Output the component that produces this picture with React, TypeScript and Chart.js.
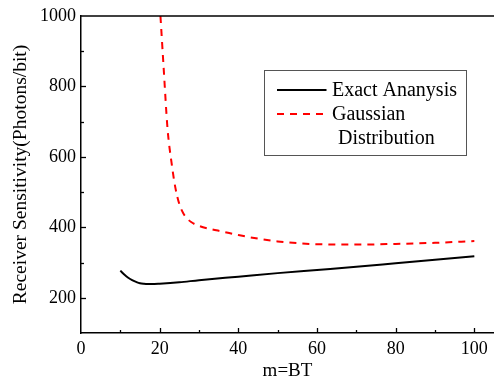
import React, { useEffect, useRef } from "react";
import { Chart, registerables } from "chart.js";

Chart.register(...registerables);

const exactX = [10, 11, 12, 13, 14, 15, 16, 17, 18, 20, 25, 30, 40, 50, 60, 70, 80, 90, 100];
const exactY = [277, 266, 257, 250, 245, 241, 239.5, 239, 239, 240, 244, 250, 260, 270, 279, 288, 298, 308, 318];

const gaussX = [20.2, 21, 22, 23, 24, 25, 26, 27, 28, 30, 33, 36, 40, 45, 50, 55, 60, 70, 80, 90, 100];
const gaussY = [1000, 855, 680, 585, 512, 466, 440, 425, 415, 404, 395, 388, 378, 368, 360, 355, 352, 351, 353, 356, 361];

const legendLabels = ["Exact Ananysis", "Gaussian", "Distribution"];
const xTitle = "m=BT";
const yTitle = "Receiver Sensitivity(Photons/bit)";

const FONT = "'Liberation Serif', 'Times New Roman', serif";

const framePlugin = {
  id: "frameTicks",
  afterDraw(chart: any) {
    const ctx = chart.ctx;
    const { left, right, top, bottom } = chart.chartArea;
    const xs = chart.scales.x;
    const ys = chart.scales.y;
    ctx.save();
    ctx.strokeStyle = "#000";
    ctx.lineWidth = 1.5;
    ctx.beginPath();
    ctx.moveTo(left, top);
    ctx.lineTo(right, top);
    ctx.stroke();
    ctx.lineWidth = 1.3;
    xs.ticks.forEach((t: any) => {
      const v = t.value;
      if (v <= 0) return;
      const px = Math.round(xs.getPixelForValue(v)) + 0.5;
      const len = v % 20 === 0 ? 5 : 3;
      ctx.beginPath();
      ctx.moveTo(px, bottom);
      ctx.lineTo(px, bottom - len);
      ctx.stroke();
    });
    ys.ticks.forEach((t: any) => {
      const v = t.value;
      if (v <= 100 || v >= 1000) return;
      const py = Math.round(ys.getPixelForValue(v)) + 0.5;
      const len = v % 200 === 0 ? 5 : 3;
      ctx.beginPath();
      ctx.moveTo(left, py);
      ctx.lineTo(left + len, py);
      ctx.stroke();
    });
    // legend
    const bx = left + 183.5;
    const by = top + 54.5;
    const bw = 202;
    const bh = 85;
    ctx.fillStyle = "#fff";
    ctx.fillRect(bx, by, bw, bh);
    ctx.strokeStyle = "#555";
    ctx.lineWidth = 1;
    ctx.strokeRect(bx, by, bw, bh);
    ctx.lineWidth = 2;
    ctx.strokeStyle = "#000";
    ctx.beginPath();
    ctx.moveTo(bx + 12.5, by + 19.5);
    ctx.lineTo(bx + 62, by + 19.5);
    ctx.stroke();
    ctx.strokeStyle = "#ff0000";
    ctx.setLineDash([7, 6]);
    ctx.beginPath();
    ctx.moveTo(bx + 12.5, by + 43.5);
    ctx.lineTo(bx + 62, by + 43.5);
    ctx.stroke();
    ctx.setLineDash([]);
    ctx.fillStyle = "#000";
    ctx.font = "20px " + FONT;
    ctx.textBaseline = "middle";
    ctx.textAlign = "left";
    ctx.fillText(legendLabels[0], bx + 67.5, by + 20);
    ctx.fillText(legendLabels[1], bx + 67.5, by + 44);
    ctx.fillText(legendLabels[2], bx + 73.5, by + 68);
    ctx.restore();
  },
};

export default function App() {
  const ref = useRef<HTMLCanvasElement>(null);
  useEffect(() => {
    document.body.style.margin = "0";
    const chart = new Chart(ref.current!, {
      type: "line",
      data: {
        datasets: [
          {
            label: legendLabels[0],
            data: exactX.map((x, i) => ({ x, y: exactY[i] })),
            borderColor: "#000",
            borderWidth: 2,
            pointRadius: 0,
            cubicInterpolationMode: "monotone",
            fill: false,
          },
          {
            label: legendLabels[1] + " " + legendLabels[2],
            data: gaussX.map((x, i) => ({ x, y: gaussY[i] })),
            borderColor: "#ff0000",
            borderWidth: 2,
            borderDash: [7, 6],
            pointRadius: 0,
            cubicInterpolationMode: "monotone",
            fill: false,
          },
        ],
      },
      options: {
        animation: false,
        responsive: false,
        layout: { padding: { top: 16, right: 0, left: 0, bottom: 0 } },
        plugins: { legend: { display: false }, tooltip: { enabled: false } },
        scales: {
          x: {
            type: "linear",
            min: 0,
            max: 105,
            afterFit: (s: any) => {
              s.height = 49;
            },
            ticks: {
              stepSize: 10,
              includeBounds: false,
              autoSkip: false,
              maxRotation: 0,
              padding: 5,
              color: "#000",
              font: { family: FONT, size: 18 },
              callback: (v: any) => (v % 20 === 0 ? String(v) : ""),
            },
            grid: { display: true, drawOnChartArea: false, drawTicks: false },
            border: { color: "#000", width: 1.5 },
            title: {
              display: true,
              text: xTitle,
              color: "#000",
              font: { family: FONT, size: 19 },
              padding: { top: 0, bottom: 0 },
            },
          },
          y: {
            type: "linear",
            min: 100,
            max: 1000,
            afterFit: (s: any) => {
              s.width = 81;
            },
            ticks: {
              stepSize: 100,
              autoSkip: false,
              padding: 5,
              color: "#000",
              font: { family: FONT, size: 18 },
              callback: (v: any) => (v % 200 === 0 ? String(v) : ""),
            },
            grid: { display: true, drawOnChartArea: false, drawTicks: false },
            border: { color: "#000", width: 1.5 },
            title: {
              display: true,
              text: yTitle,
              color: "#000",
              font: { family: FONT, size: 19.5 },
              padding: { top: 9, bottom: 0 },
            },
          },
        },
      },
      plugins: [framePlugin],
    } as any);
    return () => chart.destroy();
  }, []);
  return (
    <div style={{ position: "absolute", left: 0, top: 0, width: 494, height: 382 }}>
      <canvas ref={ref} width={494} height={382} />
    </div>
  );
}
